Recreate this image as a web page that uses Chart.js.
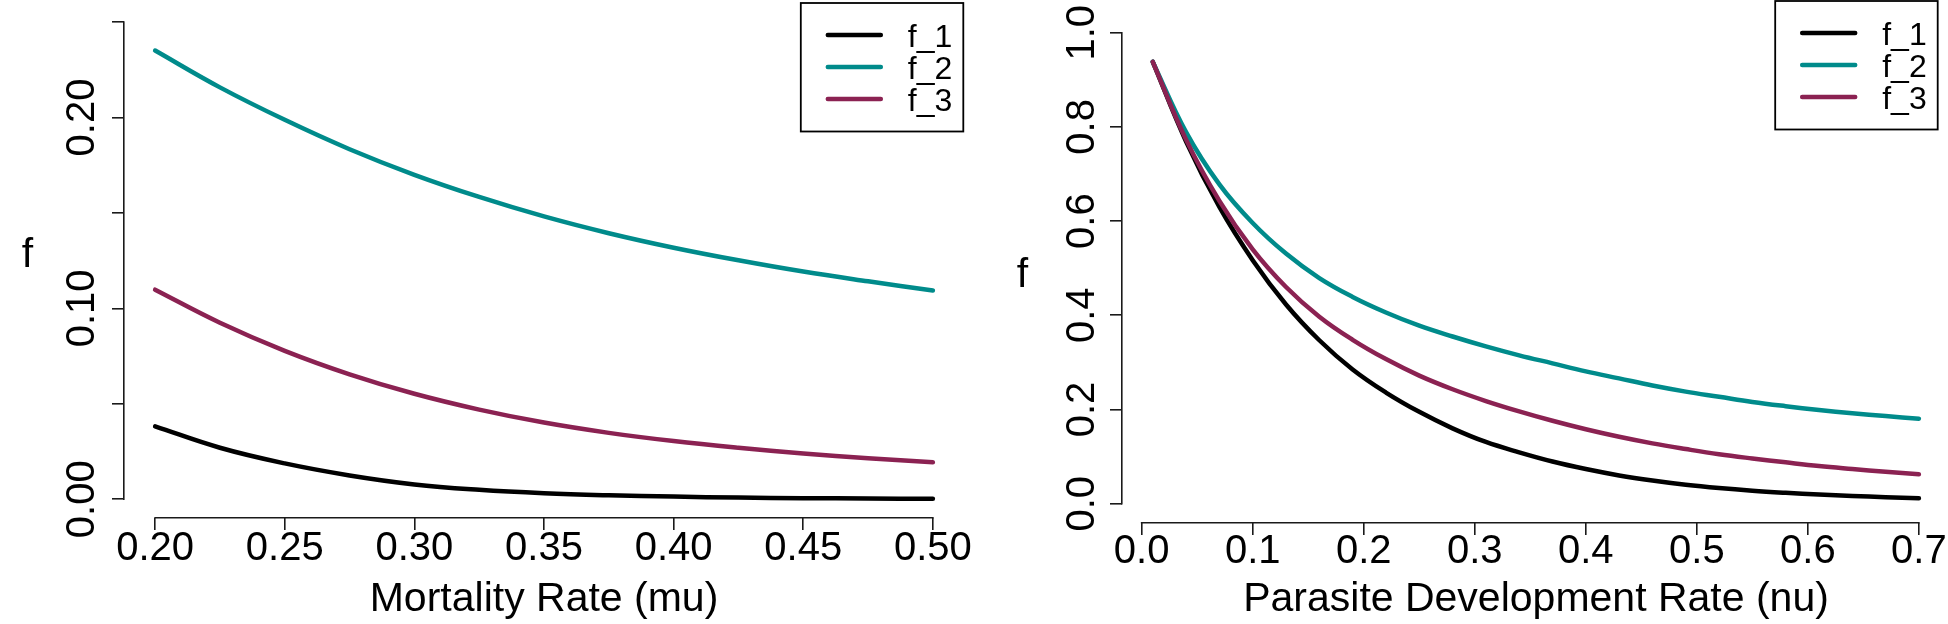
<!DOCTYPE html>
<html>
<head>
<meta charset="utf-8">
<script src="https://cdn.jsdelivr.net/npm/chart.js@4.4.0/dist/chart.umd.min.js"></script>
<style>
html,body{margin:0;padding:0;background:#fff;overflow:hidden;width:1948px;height:624px}
#wrapL{position:absolute;left:0;top:0;width:980px;height:624px}
#wrapR{position:absolute;left:980px;top:0;width:970px;height:624px}
canvas{display:block}
</style>
</head>
<body>
<div id="wrapL"><canvas id="cL" width="980" height="624"></canvas></div>
<div id="wrapR"><canvas id="cR" width="970" height="624"></canvas></div>
<script>
// ---------- data ----------
const seriesNames  = ['f_1', 'f_2', 'f_3'];
const seriesColors = ['#000000', '#008B8B', '#8B2252'];

// Left panel: Mortality Rate (mu)
const muValues = [0.200, 0.225, 0.250, 0.275, 0.300, 0.325, 0.350, 0.375, 0.400, 0.425, 0.450, 0.475, 0.500];
const muF1 = [0.0382, 0.0270, 0.0188, 0.0125, 0.0078, 0.0050, 0.0032, 0.0021, 0.0014, 0.0009, 0.0006, 0.0004, 0.0003];
const muF2 = [0.2351, 0.2158, 0.1988, 0.1834, 0.1700, 0.1584, 0.1482, 0.1394, 0.1318, 0.1252, 0.1193, 0.1142, 0.1094];
const muF3 = [0.1098, 0.0925, 0.0778, 0.0655, 0.0553, 0.0470, 0.0402, 0.0348, 0.0305, 0.0270, 0.0240, 0.0215, 0.0194];
const muXTicks = [0.20, 0.25, 0.30, 0.35, 0.40, 0.45, 0.50];
const muXTickLabels = ['0.20', '0.25', '0.30', '0.35', '0.40', '0.45', '0.50'];
const muYTicks = [0.00, 0.05, 0.10, 0.15, 0.20, 0.25];
const muYTickLabels = ['0.00', '', '0.10', '', '0.20', ''];

// Right panel: Parasite Development Rate (nu)
const nuValues = [0.01, 0.04, 0.07, 0.10, 0.13, 0.16, 0.19, 0.22, 0.25, 0.28, 0.31, 0.34, 0.37, 0.40, 0.43, 0.46, 0.49, 0.52, 0.55, 0.58, 0.61, 0.64, 0.67, 0.70];
const nuF1 = [0.938, 0.769, 0.630, 0.517, 0.423, 0.347, 0.285, 0.236, 0.195, 0.160, 0.131, 0.109, 0.0895, 0.0735, 0.0600, 0.0491, 0.0401, 0.0331, 0.0275, 0.0231, 0.0194, 0.0164, 0.0138, 0.0115];
const nuF2 = [0.938, 0.789, 0.678, 0.596, 0.531, 0.479, 0.439, 0.406, 0.378, 0.355, 0.334, 0.315, 0.298, 0.281, 0.266, 0.251, 0.238, 0.227, 0.216, 0.207, 0.199, 0.192, 0.186, 0.1805];
const nuF3 = [0.938, 0.773, 0.643, 0.540, 0.460, 0.397, 0.348, 0.307, 0.272, 0.243, 0.218, 0.196, 0.176, 0.158, 0.142, 0.128, 0.116, 0.105, 0.096, 0.0878, 0.080, 0.0737, 0.0678, 0.0624];
const nuXTicks = [0.0, 0.1, 0.2, 0.3, 0.4, 0.5, 0.6, 0.7];
const nuXTickLabels = ['0.0', '0.1', '0.2', '0.3', '0.4', '0.5', '0.6', '0.7'];
const nuYTicks = [0.0, 0.2, 0.4, 0.6, 0.8, 1.0];
const nuYTickLabels = ['0.0', '0.2', '0.4', '0.6', '0.8', '1.0'];

// ---------- styling ----------
const FONT = '"Liberation Sans", Arial, Helvetica, sans-serif';
const AXIS_COLOR = '#1a1a1a';
Chart.defaults.font.family = FONT;

function alignPx(p, w) { const h = w / 2; return Math.round(p - h) + h; }

const rAxesPlugin = {
  id: 'rAxes',
  afterDraw(chart, args, o) {
    const ctx = chart.ctx, xs = chart.scales.x, ys = chart.scales.y, ca = chart.chartArea;
    ctx.save();
    ctx.strokeStyle = AXIS_COLOR;
    ctx.lineWidth = 1.6;
    ctx.lineCap = 'butt';
    const xa = xs.getPixelForValue(o.xTicks[0]);
    const xb = xs.getPixelForValue(o.xTicks[o.xTicks.length - 1]);
    const yBase = alignPx(ca.bottom, 1.6);
    ctx.beginPath(); ctx.moveTo(xa - 0.8, yBase); ctx.lineTo(xb + 0.8, yBase); ctx.stroke();
    const ya = ys.getPixelForValue(o.yTicks[0]);
    const yb = ys.getPixelForValue(o.yTicks[o.yTicks.length - 1]);
    const xLeft = alignPx(ca.left, 1.6);
    ctx.beginPath(); ctx.moveTo(xLeft, ya + 0.8); ctx.lineTo(xLeft, yb - 0.8); ctx.stroke();

    // rotated y tick labels
    ctx.fillStyle = '#000';
    ctx.font = '40px ' + FONT;
    ctx.textAlign = 'center';
    ctx.textBaseline = 'alphabetic';
    o.yTicks.forEach((v, i) => {
      const lab = o.yTickLabels[i];
      if (!lab) return;
      const py = ys.getPixelForValue(v);
      ctx.save();
      ctx.translate(ca.left - o.yLabelGap, py);
      ctx.rotate(-Math.PI / 2);
      ctx.fillText(lab, 0, 0);
      ctx.restore();
    });

    // y title (upright)
    ctx.font = '41px ' + FONT;
    ctx.textAlign = 'center';
    ctx.fillText(o.yTitle, o.yTitleX, o.yTitleY);

    // legend box (top right of plot region)
    const L = o.legend;
    const bx = ca.right - L.rightInset - L.w;
    const by = ca.top + L.topInset;
    ctx.strokeStyle = '#000';
    ctx.lineWidth = 1.8;
    ctx.strokeRect(bx, by, L.w, L.h);
    ctx.font = L.fontSize + 'px ' + FONT;
    ctx.textAlign = 'left';
    ctx.textBaseline = 'alphabetic';
    chart.data.datasets.forEach((ds, i) => {
      const ry = by + L.rowStart + i * L.rowGap;
      ctx.strokeStyle = ds.borderColor;
      ctx.lineWidth = 4.5;
      ctx.lineCap = 'round';
      ctx.beginPath(); ctx.moveTo(bx + L.lineX0, ry); ctx.lineTo(bx + L.lineX1, ry); ctx.stroke();
      ctx.fillStyle = '#000';
      ctx.fillText(ds.label, bx + L.textX, ry + L.textDy);
    });
    ctx.restore();
  }
};

function makePanel(canvasId, p) {
  const datasets = p.series.map((vals, i) => ({
    label: seriesNames[i],
    data: p.xValues.map((x, j) => ({ x: x, y: vals[j] })),
    borderColor: seriesColors[i],
    backgroundColor: seriesColors[i],
    borderWidth: 4.5,
    borderCapStyle: 'round',
    borderJoinStyle: 'round',
    pointRadius: 0,
    fill: false,
    tension: 0.4,
    order: p.series.length - 1 - i
  }));
  return new Chart(document.getElementById(canvasId), {
    type: 'line',
    data: { datasets: datasets },
    options: {
      responsive: false,
      animation: false,
      events: [],
      devicePixelRatio: 1,
      layout: { autoPadding: false, padding: { left: 0, top: p.padTop, right: p.padRight, bottom: 0 } },
      plugins: {
        legend: { display: false },
        tooltip: { enabled: false },
        rAxes: {
          xTicks: p.xTicks, yTicks: p.yTicks, yTickLabels: p.yTickLabels,
          yLabelGap: p.yLabelGap, yTitle: 'f', yTitleX: p.yTitleX, yTitleY: p.yTitleY,
          legend: p.legend
        }
      },
      scales: {
        x: {
          type: 'linear',
          min: p.xMin, max: p.xMax,
          afterBuildTicks: s => { s.ticks = p.xTicks.map(v => ({ value: v })); },
          afterFit: s => { s.height = p.xAxisHeight; },
          ticks: {
            autoSkip: false, maxRotation: 0, minRotation: 0,
            padding: p.xTickPad, color: '#000',
            font: { family: FONT, size: 40, lineHeight: 1 },
            callback: (v, i) => p.xTickLabels[i]
          },
          grid: { display: true, drawOnChartArea: false, drawTicks: true, tickLength: 12, color: AXIS_COLOR, lineWidth: 1.6 },
          border: { display: false },
          title: {
            display: true, text: p.xTitle, color: '#000',
            font: { family: FONT, size: 41, lineHeight: 1.2 },
            padding: { top: 0, bottom: p.xTitlePad }
          }
        },
        y: {
          type: 'linear',
          min: p.yMin, max: p.yMax,
          afterBuildTicks: s => { s.ticks = p.yTicks.map(v => ({ value: v })); },
          afterFit: s => { s.width = p.yAxisWidth; },
          ticks: { display: false },
          grid: { display: true, drawOnChartArea: false, drawTicks: true, tickLength: 12, color: AXIS_COLOR, lineWidth: 1.6 },
          border: { display: false }
        }
      }
    },
    plugins: [rAxesPlugin]
  });
}

const legendGeom = { w: 162.5, h: 128.5, rowStart: 32, rowGap: 32, lineX0: 27, lineX1: 80, textX: 107, textDy: 12, fontSize: 32 };

makePanel('cL', {
  xValues: muValues, series: [muF1, muF2, muF3],
  xTicks: muXTicks, xTickLabels: muXTickLabels,
  yTicks: muYTicks, yTickLabels: muYTickLabels,
  xMin: 0.188, xMax: 0.512, yMin: -0.0098, yMax: 0.26,
  xTitle: 'Mortality Rate (mu)',
  padTop: 3, padRight: 16, yAxisWidth: 124, xAxisHeight: 106,
  xTickPad: -0.6, xTitlePad: 0,
  yLabelGap: 30, yTitleX: 27.5, yTitleY: 266.5,
  legend: Object.assign({ rightInset: 0.7, topInset: 0 }, legendGeom)
});

makePanel('cR', {
  xValues: nuValues, series: [nuF1, nuF2, nuF3],
  xTicks: nuXTicks, xTickLabels: nuXTickLabels,
  yTicks: nuYTicks, yTickLabels: nuYTickLabels,
  xMin: -0.0177, xMax: 0.728, yMin: -0.041, yMax: 1.0673,
  xTitle: 'Parasite Development Rate (nu)',
  padTop: 1, padRight: 0, yAxisWidth: 142, xAxisHeight: 101,
  xTickPad: -2.9, xTitlePad: 0,
  yLabelGap: 28, yTitleX: 42.5, yTitleY: 286.5,
  legend: Object.assign({ rightInset: 12.3, topInset: 0 }, legendGeom)
});
</script>
</body>
</html>
